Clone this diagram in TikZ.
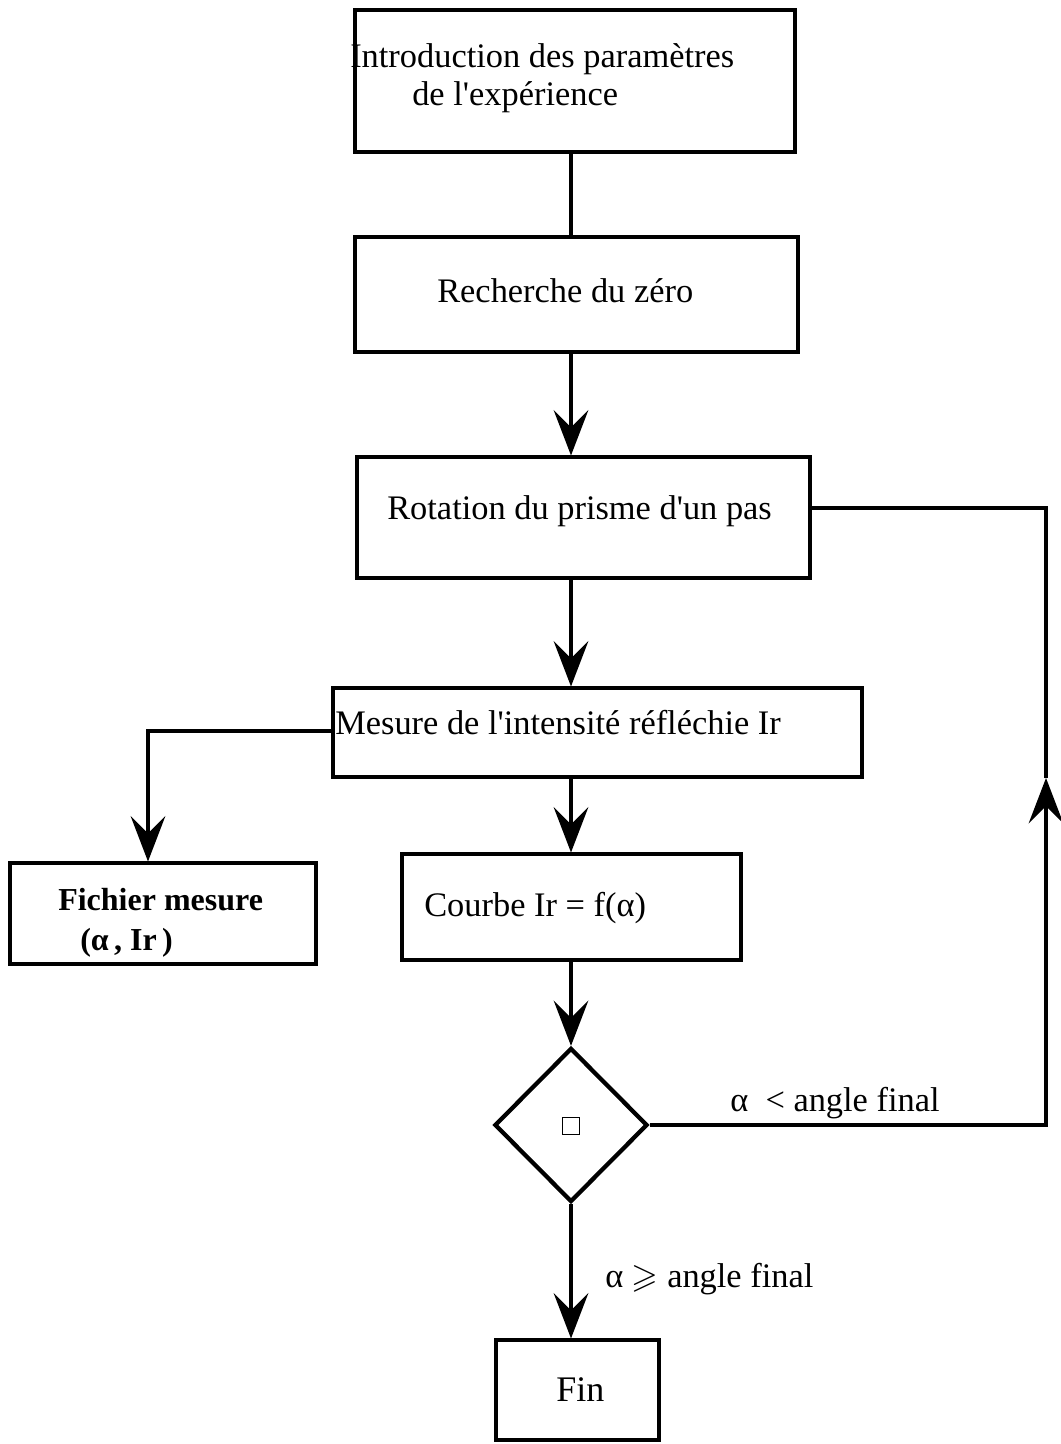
\documentclass[tikz,border=0pt]{standalone}
\usepackage{amssymb}
\usepackage{fontspec}
\setmainfont{Liberation Serif}
\usetikzlibrary{arrows.meta,shapes.geometric}
\begin{document}
\begin{tikzpicture}[x=0.75pt,y=-0.75pt,
  box/.style={draw,line width=2.3pt,rectangle,inner sep=0pt},
  txt/.style={anchor=base west,inner sep=0pt,font=\fontsize{25.8}{31}\selectfont},
  btxt/.style={anchor=base west,inner sep=0pt,font=\fontsize{24}{29}\selectfont\bfseries},
  conn/.style={line width=2.3pt},
  arr/.style={line width=2.3pt,-{Stealth[length=34pt,width=26pt,inset=13pt]}}]
\useasboundingbox (0,0) rectangle (1060,1444);
% boxes
\node[box,minimum width=330pt,minimum height=106.5pt] (b1) at (575,81) {};
\node[box,minimum width=332.25pt,minimum height=86.25pt] (b2) at (576.5,294.5) {};
\node[box,minimum width=339.75pt,minimum height=90.75pt] (b3) at (583.5,517.5) {};
\node[box,minimum width=396.75pt,minimum height=66.75pt] (b4) at (597.5,732.5) {};
\node[box,minimum width=229.5pt,minimum height=75.75pt] (fich) at (163,913.5) {};
\node[box,minimum width=254.25pt,minimum height=79.5pt] (b5) at (571.5,907) {};
\node[draw,line width=3.2pt,diamond,aspect=1,inner sep=0pt,minimum width=114.75pt,minimum height=115.5pt] (dia) at (571,1125) {};
\node[draw,line width=0.5pt,rectangle,inner sep=0pt,minimum size=13pt] (sq) at (571,1126) {};
\node[box,minimum width=122.25pt,minimum height=75pt] (fin) at (577.5,1390) {};
% texts
\node[txt] (t1a) at (350,68) {Introduction des paramètres};
\node[txt] (t1b) at (412,106) {de l\textquotesingle expérience};
\node[txt] (t2) at (437,303) {Recherche du zéro};
\node[txt] (t3) at (387,519) {Rotation du prisme d\textquotesingle un pas};
\node[txt] (t4) at (335,734) {Mesure de l\textquotesingle intensité réfléchie Ir};
\node[btxt] (tf1) at (58,910) {Fichier mesure};
\node[btxt] (tf2) at (80,950) {(α\,, Ir\,)};
\node[txt] (t5) at (424,916) {Courbe Ir = f(α)};
\node[txt] (tl1) at (730,1111) {α\ \ < angle final};
\node[txt] (tl2) at (605,1287) {α $\geqslant$ angle final};
\node[txt,font=\fontsize{27}{32}\selectfont] (tfin) at (556,1401) {Fin};
% coordinates
\coordinate (sp) at (571,0);
\coordinate (c0) at (148,731);
\coordinate (r1) at (1046,1125);
\coordinate (ra) at (1046,778);
\coordinate (r2) at (1046,508);
% connectors
\draw[conn] (b1.south -| sp) -- (b2.north -| sp);
\draw[arr] (b2.south -| sp) -- (b3.north -| sp);
\draw[arr] (b3.south -| sp) -- (b4.north -| sp);
\draw[arr] (b4.south -| sp) -- (b5.north -| sp);
\draw[arr] (b5.south -| sp) -- (dia.north);
\draw[arr] (dia.south) -- (fin.north -| dia.south);
\draw[arr] (b4.west |- c0) -- (c0) -- (c0 |- fich.north);
\draw[arr] (dia.east) -- (r1) -- (ra);
\draw[conn] (ra) -- (r2) -- (r2 -| b3.east);
\end{tikzpicture}
\end{document}
